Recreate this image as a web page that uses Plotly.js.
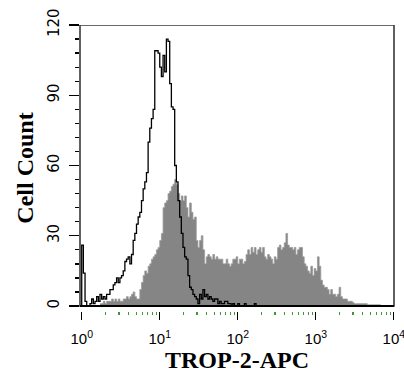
<!DOCTYPE html>
<html>
<head>
<meta charset="utf-8">
<script src="https://cdn.plot.ly/plotly-3.0.1.min.js"></script>
<style>
html,body{margin:0;padding:0;background:#fff;}
#chart{width:404px;height:374px;}
</style>
</head>
<body>
<div id="chart"></div>
<script>
// Histogram channels: channel c corresponds to intensity 10^(c / channelsPerDecade)
var channelsPerDecade = 47;

// Unstained / isotype control (open black histogram), starting at channel -1
var controlStart = -1;
var controlCounts = [0,
  26,14,2,0,0,1,3,1,2,4,
  2,5,3,4,3,5,5,7,7,9,
  10,12,10,12,13,15,19,20,21,18,
  22,28,31,35,38,40,45,50,53,57,
  70,76,80,84,109,109,108,102,98,107,
  100,114,113,95,85,84,60,53,45,38,
  31,25,21,20,13,8,7,5,4,3,
  1,5,3,7,4,5,3,4,3,2,
  3,3,1,2,1,1,2,2,1,1,
  0,1,0,0,1,0,0,0,1,0,
  0,0,0,0,1,0,0,0,0,0,
  0,0,0,0,0,0,0,0,0,0
];

// TROP-2-APC stained sample (filled grey histogram), starting at channel 11
var stainedStart = 11;
var stainedCounts = [
  1,1,2,1,2,2,2,3,2,3,
  2,3,2,2,3,3,4,3,4,5,
  6,4,3,3,7,10,13,15,14,17,
  18,20,21,22,24,25,28,31,42,44,
  45,48,49,51,52,54,52,48,45,47,
  45,47,42,38,44,40,37,38,28,25,
  28,30,24,18,21,22,21,20,22,20,
  21,20,20,20,18,18,20,18,17,18,
  20,20,21,18,20,20,18,19,22,24,
  22,25,23,25,22,24,25,23,25,21,
  20,22,21,20,18,21,20,25,26,24,
  25,27,31,26,25,25,24,25,22,24,
  25,25,21,18,17,15,14,17,13,16,
  15,21,17,11,9,8,8,7,5,7,
  5,5,4,5,8,4,3,3,3,2,
  2,2,1.5,1,1,1,1,1,1,1,
  1,0.5,0.5,0.5,0.5,0.5,0.5,0.5,0.5,0,
  0,0,0,0,0,0,0,0
];

var xTickVals = [1, 10, 100, 1000, 10000];
var xTickText = ['10<sup>0</sup>', '10<sup>1</sup>', '10<sup>2</sup>', '10<sup>3</sup>', '10<sup>4</sup>'];
var xMinorMultipliers = [2, 3, 4, 5, 6, 7, 8, 9];
var yTickVals = [0, 30, 60, 90, 120];
var yTickText = ['0', '30', '60', '90', '120'];
var yMinorStep = 6;
var yMax = 120;

function channelsToIntensity(start, n) {
  var out = [];
  for (var i = 0; i < n; i++) out.push(Math.pow(10, (start + i) / channelsPerDecade));
  return out;
}

var xMinor = [];
for (var d = 0; d < xTickVals.length - 1; d++) {
  xMinorMultipliers.forEach(function (m) { xMinor.push(m * xTickVals[d]); });
}
var yMinor = [];
for (var v = yMinorStep; v < yMax; v += yMinorStep) {
  if (yTickVals.indexOf(v) < 0) yMinor.push(v);
}

var stained = {
  x: channelsToIntensity(stainedStart, stainedCounts.length),
  y: stainedCounts,
  type: 'scatter',
  mode: 'lines',
  line: {shape: 'hv', color: '#9a9a9a', width: 0.8},
  fill: 'tozeroy',
  fillcolor: '#858585',
  hoverinfo: 'x+y',
  name: 'TROP-2-APC'
};

var control = {
  x: channelsToIntensity(controlStart, controlCounts.length),
  y: controlCounts,
  type: 'scatter',
  mode: 'lines',
  line: {shape: 'hv', color: '#000000', width: 1.3},
  hoverinfo: 'x+y',
  name: 'Control'
};

var layout = {
  width: 404,
  height: 374,
  margin: {l: 80, r: 10, t: 25, b: 63, pad: 0},
  paper_bgcolor: '#ffffff',
  plot_bgcolor: '#ffffff',
  showlegend: false,
  xaxis: {
    type: 'log',
    range: [-0.022, 4.002],
    showgrid: false,
    zeroline: false,
    showline: false,
    ticks: 'outside',
    ticklen: 8,
    tickwidth: 1.3,
    tickcolor: '#000000',
    tickmode: 'array',
    tickvals: xTickVals,
    ticktext: xTickText,
    ticklabelstandoff: 6,
    ticklabeloverflow: 'allow',
    tickfont: {family: 'Liberation Sans Narrow, Arial Narrow, Liberation Sans, sans-serif', size: 15, color: '#000'},
    minor: {tickmode: 'array', tickvals: xMinor, ticks: 'outside', ticklen: 3, tickwidth: 1.3, tickcolor: '#3a9a3a', showgrid: false},
    title: {text: 'TROP-2-APC', font: {family: 'Liberation Serif, Times New Roman, serif', size: 24, weight: 'bold', color: '#000'}, standoff: 4},
    automargin: false,
    fixedrange: true
  },
  yaxis: {
    range: [-2.135, 120],
    showgrid: false,
    zeroline: false,
    showline: false,
    ticks: 'outside',
    ticklen: 10,
    tickwidth: 1.3,
    tickcolor: '#000000',
    tickmode: 'array',
    tickvals: yTickVals,
    ticktext: yTickText,
    tickangle: -90,
    ticklabelstandoff: 4,
    tickfont: {family: 'DejaVu Sans, sans-serif', size: 15, color: '#000'},
    minor: {tickmode: 'array', tickvals: yMinor, ticks: 'outside', ticklen: 4, tickwidth: 1.3, tickcolor: '#000000', showgrid: false},
    title: {text: 'Cell Count', font: {family: 'Liberation Serif, Times New Roman, serif', size: 24, weight: 'bold', color: '#000'}, standoff: 4},
    automargin: false,
    fixedrange: true
  },
  shapes: [
    {type: 'rect', xref: 'paper', yref: 'y', x0: 0, x1: 1, y0: 0, y1: yMax,
     line: {color: '#3a3a3a', width: 1.6}, fillcolor: 'rgba(0,0,0,0)', layer: 'above'},
    {type: 'line', xref: 'paper', yref: 'y', x0: 0, x1: 1, y0: 0, y1: 0,
     line: {color: '#000000', width: 1.8}, layer: 'above'}
  ]
};

Plotly.newPlot('chart', [stained, control], layout, {displayModeBar: false, staticPlot: true});
</script>
</body>
</html>
